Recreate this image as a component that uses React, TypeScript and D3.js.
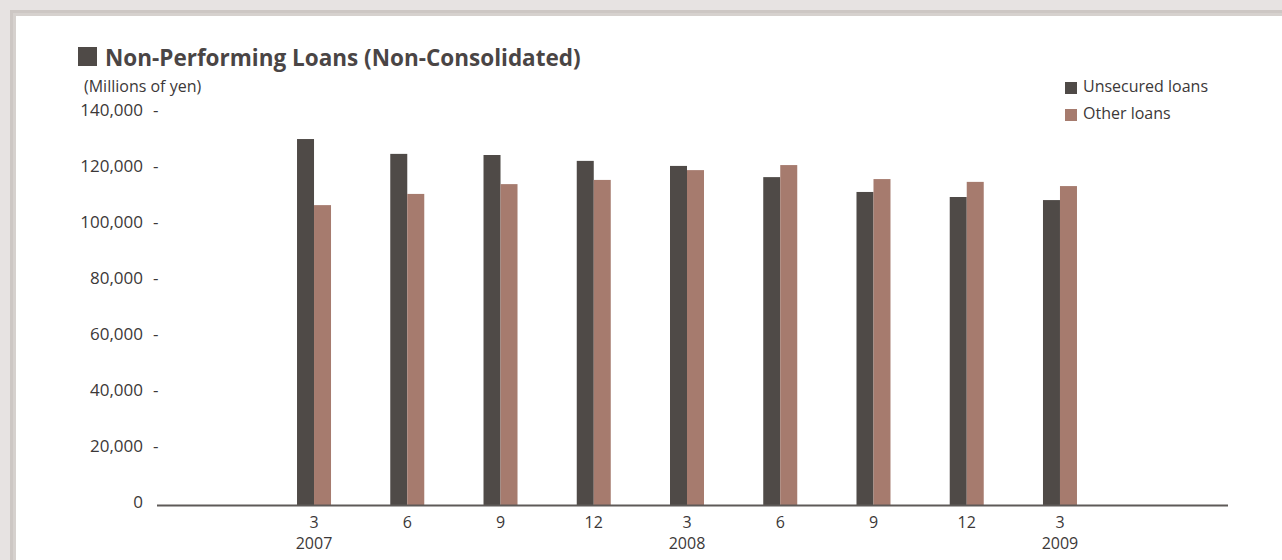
import React from "react";
import * as d3 from "d3";

const categories = ["3", "6", "9", "12", "3", "6", "9", "12", "3"];
const yearLabels = ["2007", "", "", "", "2008", "", "", "", "2009"];
const unsecured = [130700, 125400, 125000, 122900, 121100, 117100, 111800, 110000, 108900];
const other = [107100, 111100, 114600, 116100, 119600, 121400, 116400, 115400, 113900];
const yTicks = [0, 20000, 40000, 60000, 80000, 100000, 120000, 140000];
const seriesNames = ["Unsecured loans", "Other loans"];
const colors = ["#4f4a47", "#a67b6e"];

const W = 1282;
const H = 560;

export default function App() {
  const idx = categories.map((_, i) => String(i));
  const x = d3.scaleBand<string>().domain(idx).range([267.4, 1106.6]).padding(0);
  const y = d3.scaleLinear().domain([0, 140000]).range([505, 113]);
  const barW = 17;
  const fmt = d3.format(",");
  const font = "'Open Sans', 'DejaVu Sans', sans-serif";
  const textColor = "#3c3838";

  return (
    <div style={{ position: "absolute", left: 0, top: 0 }}>
      <svg width={W} height={H} style={{ display: "block" }} fontFamily={font}>
        <rect x={0} y={0} width={W} height={H} fill="#e7e3e2" />
        <rect x={10} y={10} width={W} height={H} fill="#cdc7c4" />
        <rect x={13} y={13} width={W} height={H} fill="#d6d1ce" />
        <rect x={16} y={16} width={W} height={H} fill="#ffffff" />

        {/* title */}
        <rect x={78} y={47} width={19} height={19} fill="#4f4a47" />
        <text x={105} y={66} fontSize={22.5} fontWeight="bold" fill="#4a4545">
          Non-Performing Loans (Non-Consolidated)
        </text>
        <text x={84} y={92} fontSize={16} fill={textColor}>
          (Millions of yen)
        </text>

        {/* y axis labels */}
        {yTicks.map((t) => (
          <g key={t}>
            <text
              x={143}
              y={y(t) - 1.5}
              textAnchor="end"
              dominantBaseline="middle"
              fontSize={17}
              fill={textColor}
            >
              {fmt(t)}
            </text>
            {t !== 0 && (
              <text x={153} y={y(t) - 1.5} dominantBaseline="middle" fontSize={17} fill={textColor}>
                -
              </text>
            )}
          </g>
        ))}

        {/* bars */}
        {idx.map((k, i) => {
          const cx = (x(k) as number) + x.bandwidth() / 2;
          return (
            <g key={k}>
              <rect x={cx - barW} y={y(unsecured[i])} width={barW} height={y(0) - y(unsecured[i])} fill={colors[0]} />
              <rect x={cx} y={y(other[i])} width={barW} height={y(0) - y(other[i])} fill={colors[1]} />
            </g>
          );
        })}

        {/* x axis line */}
        <line x1={157} x2={1228} y1={505.5} y2={505.5} stroke="#5e5a58" strokeWidth={2} />

        {/* x labels */}
        {idx.map((k, i) => {
          const cx = (x(k) as number) + x.bandwidth() / 2;
          return (
            <g key={"l" + k}>
              <text x={cx} y={527.5} textAnchor="middle" fontSize={16} fill={textColor}>
                {categories[i]}
              </text>
              {yearLabels[i] && (
                <text x={cx} y={549} textAnchor="middle" fontSize={16} fill={textColor}>
                  {yearLabels[i]}
                </text>
              )}
            </g>
          );
        })}

        {/* legend */}
        {seriesNames.map((n, i) => (
          <g key={n} transform={`translate(1065, ${82 + i * 27})`}>
            <rect x={0} y={0} width={12} height={12} fill={colors[i]} />
            <text x={18} y={6} dominantBaseline="middle" fontSize={16} fill={textColor}>
              {n}
            </text>
          </g>
        ))}
      </svg>
    </div>
  );
}
